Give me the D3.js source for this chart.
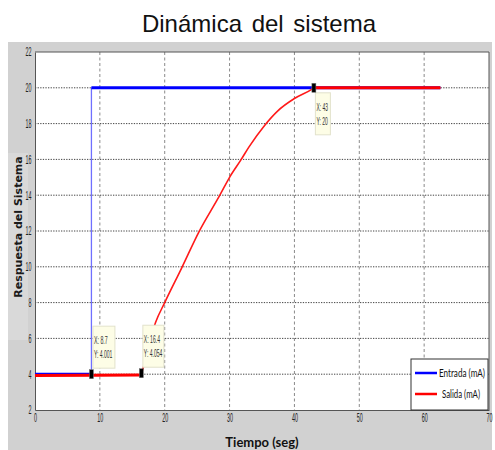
<!DOCTYPE html>
<html><head><meta charset="utf-8">
<script src="https://cdn.jsdelivr.net/npm/d3@7"></script>
<style>body{margin:0;background:#fff}svg{display:block}</style>
</head><body><svg id="c" width="495" height="450"></svg>
<script>
const title = "Dinámica del sistema";
const xLabel = "Tiempo (seg)";
const yLabel = "Respuesta del Sistema";
const xTicks = [0,10,20,30,40,50,60,70];
const yTicks = [2,4,6,8,10,12,14,16,18,20,22];
const seriesNames = ["Entrada (mA)","Salida (mA)"];
const entradaT = [0, 8.7, 8.7, 62.5];
const entradaY = [4.001, 4.001, 20, 20];
const salidaT = [0, 16.2, 16.4, 17.5, 18.6, 20, 22.7, 25.2, 28.5, 30, 31.8, 33, 35.4, 37.4, 40, 42.6, 43, 62.5];
const salidaY = [3.93, 3.95, 4.054, 5.6, 6.9, 8, 10, 11.9, 14, 15, 16, 16.7, 17.9, 18.7, 19.4, 19.9, 20, 20];
const tipX = [8.7, 16.4, 43];
const tipY = [4.001, 4.054, 20];
const tipText = [["X: 8.7","Y: 4.001"],["X: 16.4","Y: 4.054"],["X: 43","Y: 20"]];

const svg = d3.select("#c");
const L = 35, R = 489, T = 52, B = 410;
const x = d3.scaleLinear().domain([0,70]).range([L,R]);
const y = d3.scaleLinear().domain([2,22]).range([B,T]);

// gray figure background
svg.append("rect").attr("x",8).attr("y",42).attr("width",484).attr("height",408).attr("fill","#d1d1d1");
svg.append("rect").attr("x",8).attr("y",153).attr("width",20).attr("height",187).attr("fill","#d9d9d9");
svg.append("rect").attr("x",L).attr("y",T).attr("width",R-L).attr("height",B-T).attr("fill","#fff");

// title
svg.append("text").attr("x",259).attr("y",32).attr("text-anchor","middle")
  .attr("font-family","Liberation Sans, Arial, sans-serif").attr("font-size",24)
  .attr("word-spacing",3).attr("fill","#111").text(title);

// grid
const g = svg.append("g");
g.selectAll(".vg").data(xTicks.filter(d=>d>0&&d<70)).join("line")
  .attr("x1",d=>x(d)).attr("x2",d=>x(d)).attr("y1",T).attr("y2",B)
  .attr("stroke","#8a8a8a").attr("stroke-width",1).attr("stroke-dasharray","3,2.5");
g.selectAll(".hg").data(yTicks.filter(d=>d>2&&d<22)).join("line")
  .attr("x1",L).attr("x2",R).attr("y1",d=>y(d)).attr("y2",d=>y(d))
  .attr("stroke","#444").attr("stroke-width",1).attr("stroke-dasharray","1.3,1.3");

// axes
const cond = (sel, w) => sel.selectAll("text").each(function(){
  const t = d3.select(this); const n = t.text().length;
  t.attr("textLength", n*w).attr("lengthAdjust","spacingAndGlyphs");
});
const xa = svg.append("g").attr("transform",`translate(0,${B})`)
  .call(d3.axisBottom(x).tickValues(xTicks).tickFormat(d3.format("d")).tickSize(0).tickPadding(3));
xa.select(".domain").attr("stroke","#555");
xa.selectAll("text").attr("font-family","Liberation Sans, Arial, sans-serif").attr("font-size",12).attr("fill","#222");
cond(xa, 3.0);
const ya = svg.append("g").attr("transform",`translate(${L},0)`)
  .call(d3.axisLeft(y).tickValues(yTicks).tickFormat(d3.format("d")).tickSize(0).tickPadding(3.5));
ya.select(".domain").attr("stroke","#555");
ya.selectAll("text").attr("font-family","Liberation Sans, Arial, sans-serif").attr("font-size",12).attr("fill","#222");
cond(ya, 3.0);
// top/right box
svg.append("line").attr("x1",L).attr("x2",R).attr("y1",T).attr("y2",T).attr("stroke","#555");
svg.append("line").attr("x1",R).attr("x2",R).attr("y1",T).attr("y2",B).attr("stroke","#555");

// axis labels
svg.append("text").attr("x",262).attr("y",447).attr("text-anchor","middle")
  .attr("font-family","Lato, sans-serif").attr("font-weight","bold").attr("font-size",13)
  .attr("fill","#111").text(xLabel);
svg.append("text").attr("transform","translate(22,227) rotate(-90)").attr("text-anchor","middle")
  .attr("font-family","DejaVu Sans, sans-serif").attr("font-weight","bold").attr("font-size",11)
  .attr("fill","#1a1a1a").text(yLabel);

// series drawing
function drawSeries(T_, Y_, color, thin, thick, thinColor, curve){
  const pts = T_.map((t,i)=>[t,Y_[i]]);
  const line = d3.line().x(d=>x(d[0])).y(d=>y(d[1]));
  const cline = d3.line().x(d=>x(d[0])).y(d=>y(d[1])).curve(curve);
  svg.append("path").attr("d",cline(pts)).attr("fill","none")
    .attr("stroke",thinColor).attr("stroke-width",thin);
  const flats = [];
  for(let i=1;i<pts.length;i++){ if(Math.abs(pts[i][1]-pts[i-1][1])<0.05 && pts[i][0]!==pts[i-1][0]) flats.push([pts[i-1],pts[i]]); }
  svg.selectAll(null).data(flats).join("path").attr("d",d=>line(d)).attr("fill","none")
    .attr("stroke",color).attr("stroke-width",thick);
}
drawSeries(entradaT, entradaY, "#0000ff", 1.3, 3, "#7070ff", d3.curveLinear);
drawSeries(salidaT, salidaY, "#ff0000", 1.6, 3, "#ff1a1a", d3.curveMonotoneX);

// datatips
tipX.forEach((tx,i)=>{
  const px = x(tx), py = y(tipY[i]);
  const w = i===2 ? 15 : (i===1 ? 21 : 22);
  const top = i===2 ? py+5 : py-48;
  svg.append("rect").attr("x",px+1.5).attr("y",top).attr("width",w).attr("height",42)
    .attr("fill","#fdfde6").attr("stroke","#e2e2cc").attr("stroke-width",1);
  tipText[i].forEach((s,j)=>{
    svg.append("text").attr("x",px+2.5).attr("y",top+18+j*14)
      .attr("font-family","Liberation Sans, Arial, sans-serif").attr("font-size",11).attr("fill","#333")
      .attr("textLength", s.length*2.3).attr("lengthAdjust","spacingAndGlyphs").text(s);
  });
  svg.append("rect").attr("x",px-2).attr("y",py-4.5).attr("width",4).attr("height",9)
    .attr("fill","#000").attr("stroke","#777").attr("stroke-width",0.5);
});

// legend
const lg = svg.append("g");
lg.append("rect").attr("x",411).attr("y",359).attr("width",77).attr("height",51)
  .attr("fill","#fff").attr("stroke","#333").attr("stroke-width",1);
const lcol = ["#0000ff","#ff0000"];
seriesNames.forEach((n,i)=>{
  const yy = 373 + i*21;
  lg.append("line").attr("x1",415).attr("x2",437).attr("y1",yy).attr("y2",yy).attr("stroke",lcol[i]).attr("stroke-width",2.5);
  lg.append("text").attr("x",i===0?439:442).attr("y",yy+4)
    .attr("font-family","Lato, sans-serif").attr("font-size",11.5).attr("fill","#111")
    .attr("textLength", i===0?46:38).attr("lengthAdjust","spacingAndGlyphs").text(n);
});
</script></body></html>
